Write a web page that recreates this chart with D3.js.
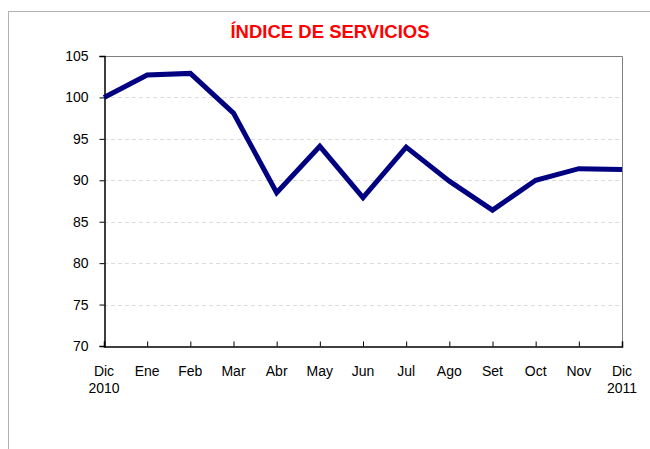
<!DOCTYPE html>
<html>
<head>
<meta charset="utf-8">
<script src="https://cdn.jsdelivr.net/npm/d3@7"></script>
<style>
  html, body { margin: 0; padding: 0; background: #fff; }
  svg { display: block; font-family: Arial, "Liberation Sans", sans-serif; }
</style>
</head>
<body>
<svg id="chart" width="650" height="449"></svg>
<script>
// Índice de servicios, dic 2010 – dic 2011
const months = ["Dic", "Ene", "Feb", "Mar", "Abr", "May", "Jun", "Jul", "Ago", "Set", "Oct", "Nov", "Dic"];
const years = ["2010", "", "", "", "", "", "", "", "", "", "", "", "2011"];
const values = [100.0, 102.7, 102.9, 98.1, 88.5, 94.1, 87.9, 94.0, 89.9, 86.4, 90.0, 91.4, 91.3];
const yTicks = [70, 75, 80, 85, 90, 95, 100, 105];
const title = "ÍNDICE DE SERVICIOS";

const svg = d3.select("#chart");
const plot = { left: 104, right: 622, top: 56, bottom: 346 };

// outer chart frame
svg.append("rect")
  .attr("x", 8.5).attr("y", 11.5)
  .attr("width", 700).attr("height", 500)
  .attr("fill", "none").attr("stroke", "#b3b3b3").attr("stroke-width", 1);

svg.append("text")
  .attr("x", 330).attr("y", 38)
  .attr("text-anchor", "middle")
  .attr("font-size", 18.5).attr("font-weight", "bold")
  .attr("fill", "#ff0000")
  .text(title);

const idx = d3.range(months.length);
const x = d3.scaleLinear().domain([0, months.length - 1]).range([plot.left, plot.right]);
const y = d3.scaleLinear().domain([70, 105]).range([plot.bottom, plot.top]);

// horizontal gridlines
svg.append("g")
  .selectAll("line")
  .data(yTicks.filter(t => t > 70 && t < 105))
  .join("line")
  .attr("x1", plot.left).attr("x2", plot.right)
  .attr("y1", d => Math.round(y(d)) + 0.5).attr("y2", d => Math.round(y(d)) + 0.5)
  .attr("stroke", "#dcdcdc").attr("stroke-width", 1)
  .attr("stroke-dasharray", "4,3");

// top and right frame of the plot area
svg.append("path")
  .attr("d", `M${plot.left},${plot.top + 0.5}H${plot.right + 0.5}V${plot.bottom}`)
  .attr("fill", "none").attr("stroke", "#7f7f7f").attr("stroke-width", 1);

// y axis
const yAxis = d3.axisLeft(y).tickValues(yTicks).tickSize(5).tickPadding(11);
const gy = svg.append("g")
  .attr("transform", `translate(${plot.left + 0.5},0)`)
  .call(yAxis);
gy.select(".domain").attr("stroke", "#000").attr("stroke-width", 1.5);
gy.selectAll(".tick line").attr("stroke", "#000");
gy.selectAll(".tick text").attr("font-size", 14).attr("fill", "#000")
  .attr("font-family", "Arial, 'Liberation Sans', sans-serif");

// x axis with inward ticks
const xAxis = d3.axisBottom(x).tickValues(idx).tickSize(-5).tickFormat(() => "");
const gx = svg.append("g")
  .attr("transform", `translate(0,${plot.bottom + 0.5})`)
  .call(xAxis);
gx.select(".domain").attr("stroke", "#000").attr("stroke-width", 1.5);
gx.selectAll(".tick line").attr("stroke", "#000");

const labels = svg.append("g")
  .attr("font-size", 14).attr("fill", "#000").attr("text-anchor", "middle");
labels.selectAll("text.m")
  .data(idx)
  .join("text").attr("class", "m")
  .attr("x", i => x(i)).attr("y", 376)
  .text(i => months[i]);
labels.selectAll("text.yr")
  .data(idx.filter(i => years[i]))
  .join("text").attr("class", "yr")
  .attr("x", i => x(i)).attr("y", 393)
  .text(i => years[i]);

// series line
const line = d3.line().x((d, i) => x(i)).y(d => y(d));
svg.append("path")
  .datum(values)
  .attr("d", line)
  .attr("fill", "none")
  .attr("stroke", "#000080")
  .attr("stroke-width", 5)
  .attr("stroke-linejoin", "miter");
</script>
</body>
</html>
